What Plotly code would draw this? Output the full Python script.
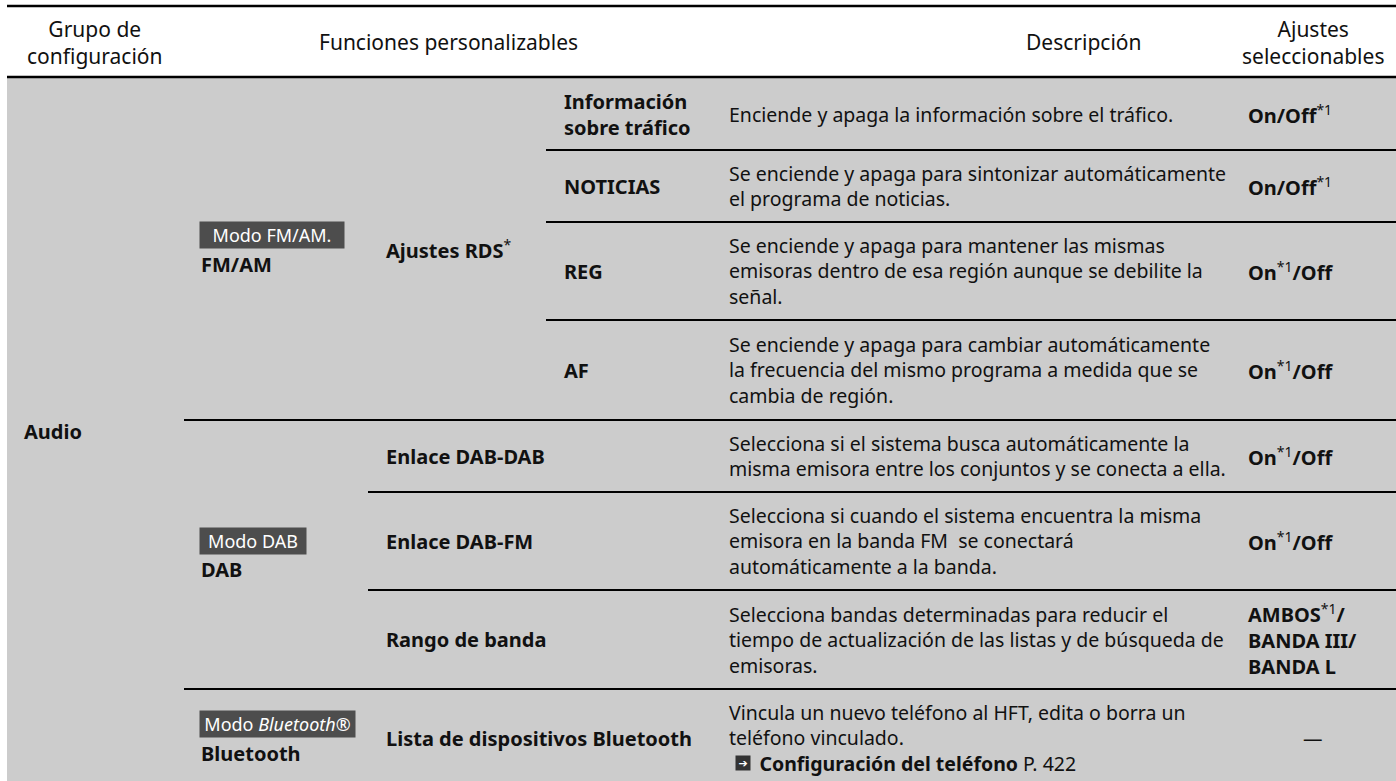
import plotly.graph_objects as go

# ---------------- data ----------------
header_lines = [["Grupo de", "configuración"], ["Funciones personalizables"],
                ["Descripción"], ["Ajustes", "seleccionables"]]
group_label = "Audio"
sub_labels = ["FM/AM", "DAB", "Bluetooth"]
sub_modes = ["Modo FM/AM.", "Modo DAB", "Modo <i>Bluetooth</i>®"]
row_sub = [0, 0, 0, 0, 1, 1, 1, 2]
row_func = ["Ajustes RDS"] * 4 + [
    "Enlace DAB-DAB", "Enlace DAB-FM", "Rango de banda",
    "Lista de dispositivos Bluetooth"]
func_note = {"Ajustes RDS": "*"}
row_item = ["Información<br>sobre tráfico", "NOTICIAS", "REG", "AF",
            None, None, None, None]
row_desc = [
    "Enciende y apaga la información sobre el tráfico.",
    "Se enciende y apaga para sintonizar automáticamente<br>el programa de noticias.",
    "Se enciende y apaga para mantener las mismas<br>emisoras dentro de esa región aunque se debilite la<br>señal.",
    "Se enciende y apaga para cambiar automáticamente<br>la frecuencia del mismo programa a medida que se<br>cambia de región.",
    "Selecciona si el sistema busca automáticamente la<br>misma emisora entre los conjuntos y se conecta a ella.",
    "Selecciona si cuando el sistema encuentra la misma<br>emisora en la banda FM  se conectará<br>automáticamente a la banda.",
    "Selecciona bandas determinadas para reducir el<br>tiempo de actualización de las listas y de búsqueda de<br>emisoras.",
    "Vincula un nuevo teléfono al HFT, edita o borra un<br>teléfono vinculado.<br>\u00a0\u00a0\u00a0\u00a0\u00a0\u00a0<b>Configuración del teléfono</b> P. 422",
]
row_setting = [
    "<b>On/Off</b><sup>*1</sup>",
    "<b>On/Off</b><sup>*1</sup>",
    "<b>On</b><sup>*1</sup><b>/Off</b>",
    "<b>On</b><sup>*1</sup><b>/Off</b>",
    "<b>On</b><sup>*1</sup><b>/Off</b>",
    "<b>On</b><sup>*1</sup><b>/Off</b>",
    "<b>AMBOS</b><sup>*1</sup><b>/</b><br><b>BANDA III/</b><br><b>BANDA L</b>",
    "—",
]

# ---------------- layout constants ----------------
W, H = 1396, 781
FONT = "Noto Sans"
FS_DESC = 19.5
FS_BOLD = 20
FS_HEAD = 21
FS_MODE = 18
TXT = "#111111"
BG = "#cccccc"
row_edges = [78, 150, 222, 320, 420, 492, 590, 689, 787]
col_x = {"left": 7, "sub": 184, "func": 368, "item": 546}
text_x = {"group": 22, "sub": 199, "func": 384, "item": 562, "desc": 727, "set": 1246}
header_x = [95, 448, 1084, 1313]
mode_w = [142, 104, 153]

fig = go.Figure()
shapes = []
ann = []

# body background
shapes.append(dict(type="rect", x0=col_x["left"], x1=W, y0=row_edges[0], y1=H,
                   fillcolor=BG, line_width=0, layer="below"))
# header lines
for y in (6, 77):
    shapes.append(dict(type="line", x0=col_x["left"], x1=W, y0=y, y1=y,
                       line=dict(color="#000000", width=2.5)))
# row separators
for i in range(len(row_func) - 1):
    if row_sub[i] != row_sub[i + 1]:
        x0 = col_x["sub"]
    elif row_func[i] != row_func[i + 1]:
        x0 = col_x["func"]
    else:
        x0 = col_x["item"]
    y = row_edges[i + 1]
    shapes.append(dict(type="line", x0=x0, x1=W, y0=y, y1=y,
                       line=dict(color="#000000", width=2)))

def add(text, x, y, xanchor="left", align="left", size=FS_DESC, color=TXT, **kw):
    ann.append(dict(text=text, x=x, y=y, xref="x", yref="y", showarrow=False,
                    xanchor=xanchor, yanchor="middle", align=align,
                    font=dict(family=FONT, size=size, color=color), **kw))

# headers
for lines, hx in zip(header_lines, header_x):
    if len(lines) == 1:
        add(lines[0], hx, 42, xanchor="center", align="center", size=FS_HEAD)
    else:
        add("<br>".join(lines), hx, 42, xanchor="center", align="center",
            size=FS_HEAD)

# group label
add("<b>%s</b>" % group_label, text_x["group"], 431, size=FS_BOLD)

# sub groups
for s, (lab, mode) in enumerate(zip(sub_labels, sub_modes)):
    idx = [i for i, r in enumerate(row_sub) if r == s]
    top, bot = row_edges[idx[0]], row_edges[idx[-1] + 1]
    cy = (top + bot) / 2
    ann.append(dict(text=mode, x=text_x["sub"], y=cy - 14, xref="x", yref="y",
                    showarrow=False, xanchor="left", yanchor="middle",
                    width=mode_w[s], height=24, align="center", borderpad=1,
                    bgcolor="#4d4d4d",
                    font=dict(family=FONT, size=FS_MODE, color="#ffffff")))
    add("<b>%s</b>" % lab, text_x["sub"], cy + 15, size=FS_BOLD)

# function column (merged cells)
i = 0
while i < len(row_func):
    j = i
    while j + 1 < len(row_func) and row_func[j + 1] == row_func[i]:
        j += 1
    cy = (row_edges[i] + row_edges[j + 1]) / 2
    note = func_note.get(row_func[i])
    txt = "<b>%s</b>" % row_func[i]
    if note:
        txt += "<sup>%s</sup>" % note
    add(txt, text_x["func"], cy, size=FS_BOLD)
    i = j + 1

# items, descriptions, settings
for i in range(len(row_func)):
    cy = (row_edges[i] + row_edges[i + 1]) / 2
    if row_item[i]:
        add("<b>%s</b>" % row_item[i], text_x["item"], cy, size=FS_BOLD)
    add(row_desc[i], text_x["desc"], cy)
    if row_setting[i] == "—":
        add(row_setting[i], 1313, cy, xanchor="center", align="center")
    else:
        add(row_setting[i], text_x["set"], cy, size=FS_BOLD)

# reference icon in last row
cy_last = (row_edges[-2] + row_edges[-1]) / 2 + 1.3 * FS_DESC
ann.append(dict(text="➔", x=text_x["desc"] + 8, y=cy_last, xref="x", yref="y",
                showarrow=False, xanchor="left", yanchor="middle",
                width=14, height=14, bgcolor="#333333", borderpad=0,
                font=dict(family="DejaVu Sans", size=11, color="#ffffff")))

fig.update_layout(
    width=W, height=H, margin=dict(l=0, r=0, t=0, b=0),
    paper_bgcolor="#ffffff", plot_bgcolor="#ffffff",
    xaxis=dict(range=[0, W], visible=False, fixedrange=True),
    yaxis=dict(range=[H, 0], visible=False, fixedrange=True),
    shapes=shapes, annotations=ann, showlegend=False,
)
fig.write_html("out.html", config={"displayModeBar": False},
               post_script="document.body.style.margin='0px';document.body.style.overflow='hidden';")
